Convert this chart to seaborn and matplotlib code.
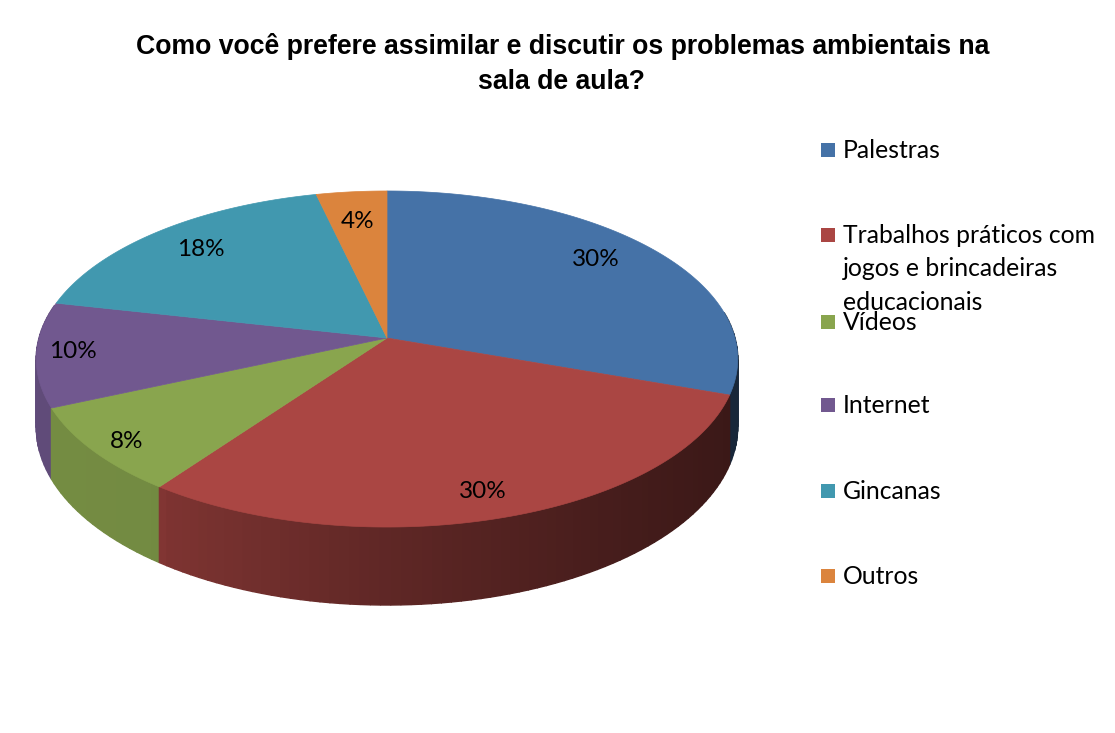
import matplotlib
matplotlib.use('Agg')
import matplotlib.pyplot as plt
import numpy as np
import seaborn as sns
from matplotlib.patches import Polygon, Rectangle

title = 'Como você prefere assimilar e discutir os problemas ambientais na\nsala de aula?'
categories = ['Palestras', 'Trabalhos práticos com\njogos e brincadeiras\neducacionais',
              'Vídeos', 'Internet', 'Gincanas', 'Outros']
values = [30, 30, 8, 10, 18, 4]
colors = ['#4572A7', '#AA4643', '#89A54E', '#71588F', '#4198AF', '#DB843D']

sns.set_theme(style='white')
plt.rcParams['font.family'] = ['Lato', 'DejaVu Sans']
palette = sns.color_palette(colors)

# picture geometry, in pixels
cx, cy = 387, 338
rx, ry = 348, 165.4
tilt = 0.125

# label spots and legend rows
label_pos = [(596, 260), (483, 492), (127, 441), (73, 352), (201, 249), (358, 221)]
legend_base = [158, 243, 330, 413, 499, 584]
line_step = 33.5


def project(theta):
    # unit circle to the tilted disc on the page, the old chart's view skews angles a bit
    clockwise = (90 - theta) % 360
    skew = np.interp(clockwise, [0, 108, 216, 245, 281, 346, 360], [0, 1.3, 0, 1.5, 1.7, 1.2, 0])
    t = np.radians(theta - skew)
    x = np.cos(t)
    y = np.sin(t)
    d = 1 + tilt * y
    return cx + rx * x / d, cy - ry * y / d


def wall_height(theta):
    return 66 - 12 * np.sin(np.radians(theta))


def shade(color, x):
    f = np.interp(x, [35, 155, 165, 400, 600, 740], [0.85, 0.84, 0.74, 0.55, 0.42, 0.34])
    return tuple(c * f for c in color)


fig, ax = plt.subplots(figsize=(11.15, 7.33), dpi=100)
fig.subplots_adjust(0, 0, 1, 1)

# the pie gives the slice angles, then the flat wedges are swapped for the 3d look
wedges, _ = ax.pie(values, colors=palette, startangle=90, counterclock=False)
angles = [(w.theta1, w.theta2) for w in wedges]
for w in wedges:
    w.remove()

ax.set_aspect('auto')
ax.set_xlim(0, 1115)
ax.set_ylim(733, 0)
ax.axis('off')

# side wall, back to front so the rim stays clean
strips = []
for (t1, t2), color in zip(angles, palette):
    for a, b in [(t1, t2), (t1 + 360, t2 + 360), (t1 - 360, t2 - 360)]:
        lo, hi = max(a, 170), min(b, 370)
        if hi <= lo:
            continue
        steps = np.linspace(lo, hi, int((hi - lo) / 1.5) + 2)
        for s1, s2 in zip(steps[:-1], steps[1:]):
            strips.append((s1, s2, color))
strips.sort(key=lambda s: -abs(np.sin(np.radians(s[0] + 90))))
for s1, s2, color in strips:
    x1, y1 = project(s1)
    x2, y2 = project(s2)
    quad = [(x1, y1), (x2, y2), (x2, y2 + wall_height(s2)), (x1, y1 + wall_height(s1))]
    c = shade(color, (x1 + x2) / 2)
    ax.add_patch(Polygon(quad, closed=True, fc=c, ec=c, lw=1.0, zorder=2))

# top of the disc
for (t1, t2), color in zip(angles, palette):
    xs, ys = project(np.linspace(t1, t2, 200))
    pts = [(cx, cy)] + list(zip(xs, ys))
    ax.add_patch(Polygon(pts, closed=True, fc=color, ec=color, lw=0.5, zorder=3))

for v, (x, y) in zip(values, label_pos):
    ax.text(x, y, f'{v}%', ha='center', va='center', fontsize=17.5, color='black', zorder=4)

first, second = title.split('\n')
ax.text(563, 46, first, ha='center', va='center', fontsize=19.2, fontweight='bold',
        family='Liberation Sans', color='black')
ax.text(561, 82, second, ha='center', va='center', fontsize=19.2, fontweight='bold',
        family='Liberation Sans', color='black')

for name, color, base in zip(categories, palette, legend_base):
    ax.add_patch(Rectangle((821, base - 15), 14, 14, fc=color, ec='none'))
    for i, line in enumerate(name.split('\n')):
        ax.text(843, base + i * line_step, line, ha='left', va='baseline', fontsize=17.8,
                color='black', zorder=5)

plt.savefig('out.png', dpi=100)
